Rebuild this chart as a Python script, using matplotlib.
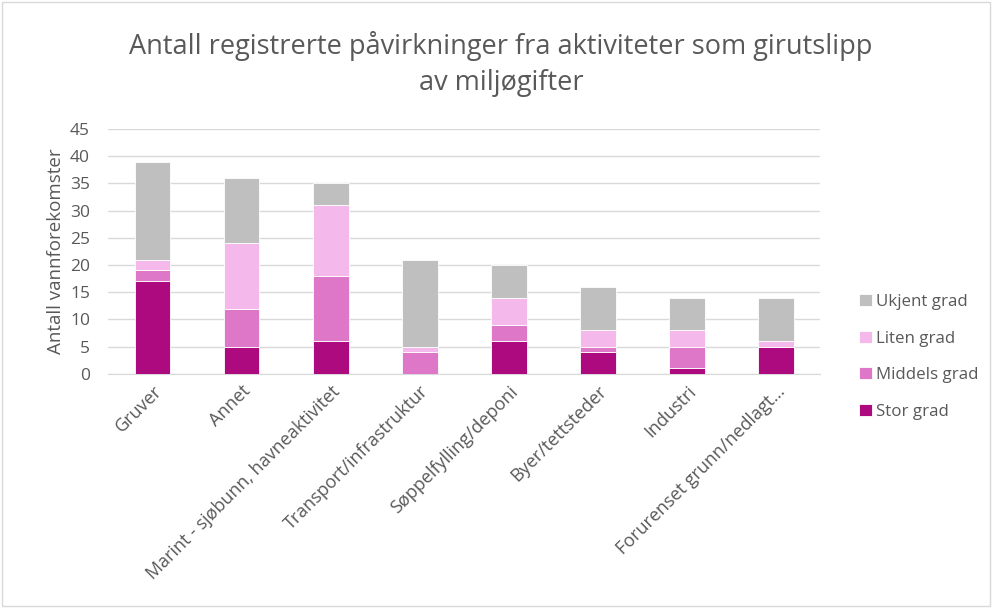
import numpy as np
import matplotlib.pyplot as plt
from matplotlib.patches import Rectangle

categories = ["Gruver", "Annet", "Marint - sjøbunn, havneaktivitet",
              "Transport/infrastruktur", "Søppelfylling/deponi",
              "Byer/tettsteder", "Industri", "Forurenset grunn/nedlagt…"]
stor = [17, 5, 6, 0, 6, 4, 1, 5]
middels = [2, 7, 12, 4, 3, 1, 4, 0]
liten = [2, 12, 13, 1, 5, 3, 3, 1]
ukjent = [18, 12, 4, 16, 6, 8, 6, 8]

series = [
    ("Stor grad", stor, "#ad0a80"),
    ("Middels grad", middels, "#de77c7"),
    ("Liten grad", liten, "#f4b8eb"),
    ("Ukjent grad", ukjent, "#bfbfbf"),
]

plt.rcParams["font.family"] = ["Open Sans", "DejaVu Sans"]
txt = "#595959"

fig = plt.figure(figsize=(9.92, 6.08), dpi=100)
fig.patches.append(Rectangle((0.002, 0.003), 0.996, 0.994, transform=fig.transFigure,
                             fill=False, edgecolor="#d9d9d9", linewidth=1))
ax = fig.add_axes([0.109, 0.385, 0.718, 0.403])

x = np.arange(len(categories))
bottom = np.zeros(len(categories))
handles = []
for name, vals, col in series:
    b = ax.bar(x, vals, 0.4, bottom=bottom, color=col, edgecolor="white",
               linewidth=0.6, label=name, zorder=3)
    handles.append(b)
    bottom += np.array(vals)

ax.set_xlim(-0.5, len(categories) - 0.5)
ax.set_ylim(0, 45)
ax.set_yticks(range(0, 46, 5))
ax.grid(axis="y", color="#d9d9d9", linewidth=1, zorder=0)
for s in ["top", "right", "left"]:
    ax.spines[s].set_visible(False)
ax.spines["bottom"].set_color("#d9d9d9")
ax.tick_params(axis="both", length=0, colors=txt)
ax.tick_params(axis="y", pad=13, labelsize=12.5)
ax.tick_params(axis="x", pad=6, labelsize=13)
ax.set_xticks(x)
ax.set_xticklabels(categories, rotation=45, ha="right", rotation_mode="anchor")
ax.set_ylabel("Antall vannforekomster", color=txt, fontsize=13.5, labelpad=4)

fig.text(0.505, 0.925, "Antall registrerte påvirkninger fra aktiviteter som girutslipp",
         ha="center", va="center", fontsize=19.5, color=txt)
fig.text(0.505, 0.863, "av miljøgifter", ha="center", va="center",
         fontsize=19.5, color=txt)

leg = fig.legend(handles[::-1], [s[0] for s in series][::-1], loc="center left",
                 bbox_to_anchor=(0.851, 0.413), frameon=False, fontsize=12.2,
                 handlelength=0.72, handleheight=0.72, handletextpad=0.25,
                 labelspacing=1.22, labelcolor=txt)

fig.savefig("out.png", dpi=100)
